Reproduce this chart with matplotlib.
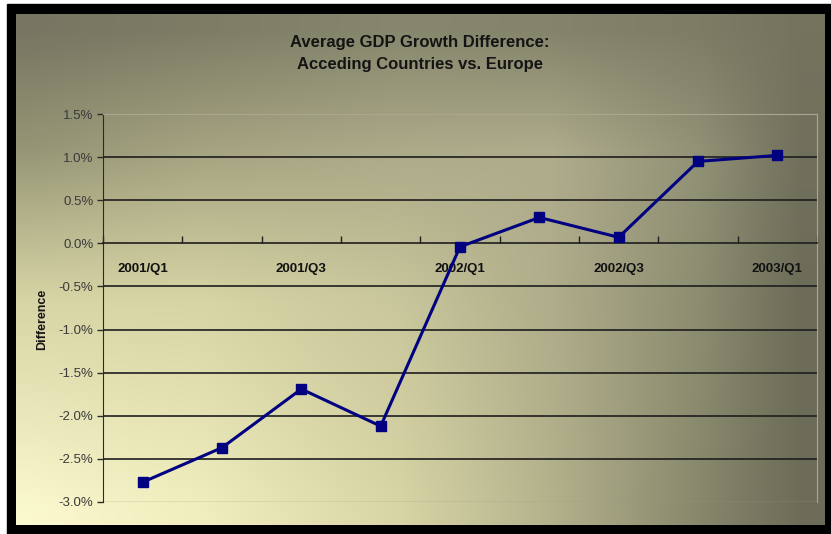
import numpy as np
import matplotlib.pyplot as plt
from matplotlib.patches import Rectangle

quarters = ["2001/Q1", "2001/Q2", "2001/Q3", "2001/Q4", "2002/Q1",
            "2002/Q2", "2002/Q3", "2002/Q4", "2003/Q1"]
diff = [-2.77, -2.37, -1.69, -2.12, -0.04, 0.30, 0.07, 0.95, 1.02]
yticks = [1.5, 1.0, 0.5, 0.0, -0.5, -1.0, -1.5, -2.0, -2.5, -3.0]

W, H = 831, 534
plt.rcParams['font.family'] = ['Liberation Sans', 'DejaVu Sans']

fig = plt.figure(figsize=(W / 100, H / 100), dpi=100)
fig.patch.set_facecolor('white')

# background panel: black frame plus a shaded fill
bg = fig.add_axes([0, 0, 1, 1])
bg.axis('off')
bg.add_patch(Rectangle((7, 4), W - 7, H - 4, color='black', zorder=0))

gx = [30, 200, 400, 550, 700, 800]
gy = [30, 150, 300, 510]
gcol = np.array([
    [(118, 118, 98), (125, 125, 102), (135, 135, 110), (132, 132, 107), (125, 125, 102), (115, 115, 94)],
    [(150, 150, 118), (165, 163, 128), (172, 170, 136), (175, 172, 140), (145, 145, 118), (112, 112, 92)],
    [(215, 213, 165), (215, 213, 165), (200, 198, 155), (175, 173, 138), (140, 140, 112), (108, 108, 88)],
    [(250, 248, 205), (240, 238, 190), (215, 213, 165), (180, 178, 140), (135, 135, 108), (108, 108, 88)],
], dtype=float)
px = np.arange(16, 825)
py = np.arange(14, 525)
rows = np.stack([np.stack([np.interp(px, gx, gcol[j, :, c]) for c in range(3)], -1)
                 for j in range(len(gy))])
img = np.empty((len(py), len(px), 3))
for c in range(3):
    for i in range(len(px)):
        img[:, i, c] = np.interp(py, gy, rows[:, i, c])
bg.imshow(img / 255, extent=(16, 825, 525, 14), aspect='auto',
          interpolation='bilinear', zorder=1)
bg.set_xlim(0, W)
bg.set_ylim(H, 0)

fig.text(420, H - 42, "Average GDP Growth Difference:", transform=None,
         ha='center', va='center', fontsize=12, fontweight='bold', color='#141414')
fig.text(420, H - 64, "Acceding Countries vs. Europe", transform=None,
         ha='center', va='center', fontsize=12, fontweight='bold', color='#141414')
fig.text(42, H - 319, "Difference", transform=None, rotation=90,
         ha='center', va='center', fontsize=9, fontweight='bold', color='#141414')

ax = fig.add_axes([103 / W, 32 / H, 714 / W, 388 / H])
ax.set_facecolor('none')
x = np.arange(len(quarters))
ax.set_xlim(-0.5, len(quarters) - 0.5)
ax.set_ylim(-3.0, 1.5)

for v in yticks[1:-1]:
    if v != 0:
        ax.axhline(v, color='#1e1e1e', lw=1.2, zorder=1)
ax.axhline(-3.0, color='#9a9a84', lw=1, zorder=1)

ax.plot(x, diff, color='#000080', lw=2.2, marker='s', markersize=7,
        markerfacecolor='#000080', markeredgecolor='#000080', zorder=3)

for s in ['top', 'right']:
    ax.spines[s].set_color('#a8a890')
    ax.spines[s].set_linewidth(0.8)
ax.spines['left'].set_color('#2a2a2a')
ax.spines['bottom'].set_position(('data', 0))
ax.spines['bottom'].set_color('#1e1e1e')
ax.spines['bottom'].set_linewidth(1.2)

ax.set_yticks(yticks)
ax.set_yticklabels([f"{v:.1f}%" for v in yticks])
ax.tick_params(axis='y', direction='out', length=4, width=1, color='#2a2a2a',
               labelsize=9.5, labelcolor='#3a3a3a', pad=3)

ax.set_xticks(np.arange(-0.5, len(quarters), 1))
ax.set_xticklabels([])
ax.tick_params(axis='x', which='major', direction='in', length=5, width=1, color='#1e1e1e')
ax.set_xticks(x[::2], minor=True)
ax.set_xticklabels(quarters[::2], minor=True)
ax.tick_params(axis='x', which='minor', length=0, pad=14, labelsize=9.5,
               labelcolor='#111111')
for lbl in ax.get_xticklabels(minor=True):
    lbl.set_fontweight('bold')

fig.savefig('out.png', dpi=100)
